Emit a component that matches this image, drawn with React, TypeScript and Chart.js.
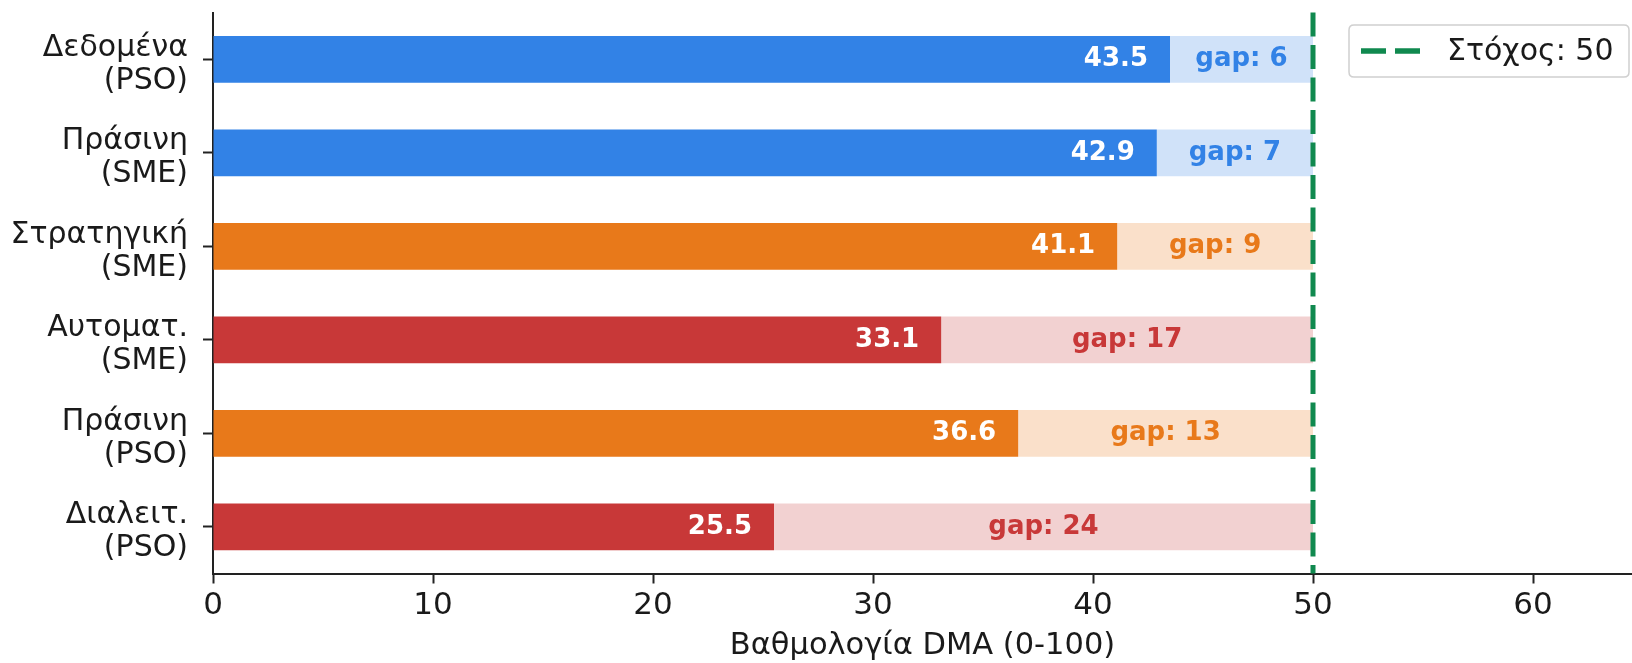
import React, { useEffect, useRef } from 'react';
import { Chart, registerables } from 'chart.js';

Chart.register(...registerables);

const categories: string[][] = [
  ['Δεδομένα', '(PSO)'],
  ['Πράσινη', '(SME)'],
  ['Στρατηγική', '(SME)'],
  ['Αυτοματ.', '(SME)'],
  ['Πράσινη', '(PSO)'],
  ['Διαλειτ.', '(PSO)'],
];
const scores = [43.5, 42.9, 41.1, 33.1, 36.6, 25.5];
const gapLabels = ['gap: 6', 'gap: 7', 'gap: 9', 'gap: 17', 'gap: 13', 'gap: 24'];
const target = 50;
const targetLabel = 'Στόχος: 50';
const xAxisTitle = 'Βαθμολογία DMA (0-100)';
const xMin = 0;
const xMax = 64.5;
const xStep = 10;

const BLUE = '#3282E6';
const ORANGE = '#E8791A';
const RED = '#C83838';
const GREEN = '#10894F';
const barColors = [BLUE, BLUE, ORANGE, RED, ORANGE, RED];
const lightOf: Record<string, string> = {
  [BLUE]: 'rgba(50,130,230,0.23)',
  [ORANGE]: 'rgba(232,121,26,0.23)',
  [RED]: 'rgba(200,56,56,0.23)',
};
const gapColors = barColors.map((c) => lightOf[c]);
const gaps = scores.map((v) => target - v);

const FONT = '"DejaVu Sans", "Liberation Sans", sans-serif';

const overlayPlugin = {
  id: 'overlay',
  afterDatasetsDraw(chart: any) {
    const { ctx, chartArea, scales } = chart;
    const x = scales.x;
    const y = scales.y;
    ctx.save();
    ctx.font = `bold 26px ${FONT}`;
    ctx.textBaseline = 'alphabetic';
    scores.forEach((v, i) => {
      const cy = y.getPixelForValue(i);
      ctx.fillStyle = '#ffffff';
      ctx.textAlign = 'right';
      ctx.fillText(v.toFixed(1), x.getPixelForValue(v - 1), cy + 7);
      ctx.fillStyle = barColors[i];
      ctx.textAlign = 'center';
      ctx.fillText(gapLabels[i], x.getPixelForValue((v + target) / 2), cy + 7);
    });
    const tx = x.getPixelForValue(target);
    ctx.strokeStyle = GREEN;
    ctx.lineWidth = 5;
    ctx.setLineDash([24, 8.5]);
    ctx.beginPath();
    ctx.moveTo(tx, chartArea.top);
    ctx.lineTo(tx, chartArea.bottom);
    ctx.stroke();
    ctx.restore();
  },
  afterDraw(chart: any) {
    const { ctx } = chart;
    ctx.save();
    const bx = 1349, by = 25, bw = 280, bh = 52, r = 5;
    ctx.fillStyle = 'rgba(255,255,255,0.85)';
    ctx.strokeStyle = '#d0d0d0';
    ctx.lineWidth = 1.5;
    ctx.beginPath();
    ctx.moveTo(bx + r, by);
    ctx.lineTo(bx + bw - r, by);
    ctx.quadraticCurveTo(bx + bw, by, bx + bw, by + r);
    ctx.lineTo(bx + bw, by + bh - r);
    ctx.quadraticCurveTo(bx + bw, by + bh, bx + bw - r, by + bh);
    ctx.lineTo(bx + r, by + bh);
    ctx.quadraticCurveTo(bx, by + bh, bx, by + bh - r);
    ctx.lineTo(bx, by + r);
    ctx.quadraticCurveTo(bx, by, bx + r, by);
    ctx.closePath();
    ctx.fill();
    ctx.stroke();
    const ly = by + bh / 2;
    ctx.strokeStyle = GREEN;
    ctx.lineWidth = 5.5;
    ctx.setLineDash([25, 9]);
    ctx.beginPath();
    ctx.moveTo(1361, ly);
    ctx.lineTo(1422, ly);
    ctx.stroke();
    ctx.setLineDash([]);
    ctx.fillStyle = '#1a1a1a';
    ctx.font = `30px ${FONT}`;
    ctx.textAlign = 'left';
    ctx.textBaseline = 'middle';
    ctx.fillText(targetLabel, 1447, ly + 1);
    ctx.restore();
  },
};

export default function App() {
  const ref = useRef<HTMLCanvasElement | null>(null);
  useEffect(() => {
    if (!ref.current) return;
    const chart = new Chart(ref.current, {
      type: 'bar',
      data: {
        labels: categories,
        datasets: [
          {
            label: 'score',
            data: scores,
            backgroundColor: barColors,
            borderWidth: 0,
            barPercentage: 0.5,
            categoryPercentage: 1.0,
          },
          {
            label: 'gap',
            data: gaps,
            backgroundColor: gapColors,
            borderWidth: 0,
            barPercentage: 0.5,
            categoryPercentage: 1.0,
          },
        ],
      },
      options: {
        indexAxis: 'y',
        animation: false,
        responsive: false,
        maintainAspectRatio: false,
        layout: { padding: { top: 12.5, left: 0, right: 0, bottom: 0 } },
        plugins: {
          legend: { display: false },
          title: { display: false },
          tooltip: { enabled: false },
        },
        scales: {
          x: {
            type: 'linear',
            stacked: true,
            min: xMin,
            max: xMax,
            grid: {
              drawOnChartArea: false,
              drawTicks: true,
              tickLength: 10,
              tickWidth: 2,
              tickColor: '#222',
            },
            border: { display: true, color: '#222', width: 2 },
            ticks: {
              stepSize: xStep,
              includeBounds: false,
              padding: 4,
              color: '#1a1a1a',
              font: { family: FONT, size: 31 },
            },
            title: {
              display: true,
              text: xAxisTitle,
              color: '#1a1a1a',
              font: { family: FONT, size: 30.5 },
              padding: { top: 0, bottom: -1 },
            },
            afterFit(scale: any) {
              scale.height = 663 - 573.5;
              scale.paddingLeft = 0;
              scale.paddingRight = 0;
            },
          },
          y: {
            type: 'category',
            stacked: true,
            offset: true,
            grid: {
              offset: false,
              drawOnChartArea: false,
              drawTicks: true,
              tickLength: 10,
              tickWidth: 2,
              tickColor: '#222',
            },
            border: { display: true, color: '#222', width: 2 },
            ticks: {
              padding: 15,
              labelOffset: 5,
              color: '#1a1a1a',
              font: { family: FONT, size: 30, lineHeight: 1.1 },
            },
            afterFit(scale: any) {
              scale.width = 213;
              scale.paddingTop = 0;
              scale.paddingBottom = 0;
            },
          },
        },
      },
      plugins: [overlayPlugin],
    });
    return () => chart.destroy();
  }, []);
  return (
    <div style={{ position: 'absolute', left: 0, top: 0, width: 1632, height: 663, background: '#fff' }}>
      <canvas ref={ref} width={1632} height={663} style={{ display: 'block' }} />
    </div>
  );
}
